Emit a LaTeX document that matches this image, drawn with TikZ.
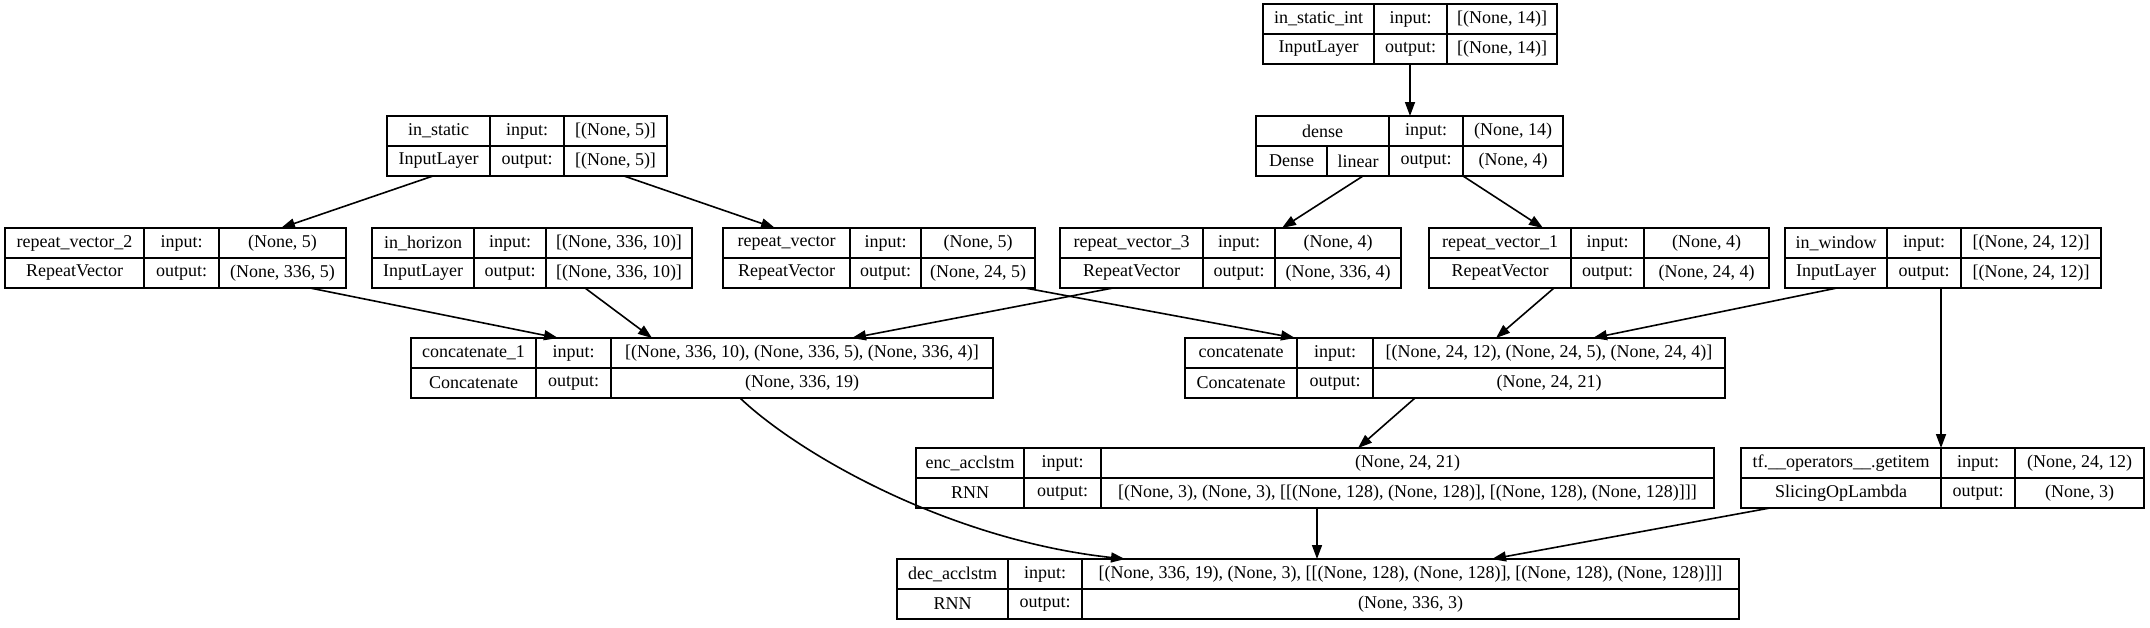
\documentclass[tikz,border=0pt]{standalone}
\usepackage{fontspec}
\setmainfont{Liberation Serif}
\usepackage{tikz}
\usetikzlibrary{arrows.meta}

\tikzset{
  kframe/.style={draw, line width=0.8pt, inner sep=0pt, outer sep=0pt, minimum height=30pt},
  kline/.style={line width=0.8pt},
  ktext/.style={inner sep=0pt, font=\rmfamily\fontsize{9}{10}\selectfont},
  kedge/.style={line width=0.8pt, -{Triangle[length=7pt,width=5pt]}},
}

% one layer: id, left, sep1, sep2, right, name, type, input, output
\newcommand{\kbox}[9]{%
  \node[kframe, anchor=north west, minimum width={(#5-#2)*0.5pt}] (#1) at (#2,\rowy) {};
  \draw[kline] (#3,\rowy) -- (#3,\rowy+60) (#4,\rowy) -- (#4,\rowy+60) (#2,\rowy+30) -- (#5,\rowy+30);
  \node[ktext] (#1n) at ({(#2+#3)/2},\rowy+15) {#6};
  \node[ktext] (#1t) at ({(#2+#3)/2},\rowy+45) {#7};
  \node[ktext] (#1i) at ({(#3+#4)/2},\rowy+15) {input:};
  \node[ktext] (#1o) at ({(#3+#4)/2},\rowy+45) {output:};
  \node[ktext] (#1a) at ({(#4+#5)/2},\rowy+15) {#8};
  \node[ktext] (#1b) at ({(#4+#5)/2},\rowy+45) {#9};
}

\begin{document}
\begin{tikzpicture}[x=0.5pt, y=-0.5pt]
\fill[white] (0,0) rectangle (2150,627);
\useasboundingbox (0,0) rectangle (2150,627);
% inputs
\def\rowy{4}
\kbox{instaticint}{1263}{1374}{1447}{1557}{in\_static\_int}{InputLayer}{[(None, 14)]}{[(None, 14)]}
\def\rowy{116}
\kbox{instatic}{387}{490}{564}{667}{in\_static}{InputLayer}{[(None, 5)]}{[(None, 5)]}
% dense
\node[kframe, anchor=north west, minimum width={(1563-1256)*0.5pt}] (dense) at (1256,116) {};
\draw[kline] (1389,116) -- (1389,176) (1463,116) -- (1463,176) (1256,146) -- (1563,146) (1327,146) -- (1327,176);
\node[ktext] (densen) at ({(1256+1389)/2},131) {dense};
\node[ktext] (denset) at ({(1256+1327)/2},161) {Dense};
\node[ktext] (densel) at ({(1327+1389)/2},161) {linear};
\node[ktext] (densei) at ({(1389+1463)/2},131) {input:};
\node[ktext] (denseo) at ({(1389+1463)/2},161) {output:};
\node[ktext] (densea) at ({(1463+1563)/2},131) {(None, 14)};
\node[ktext] (denseb) at ({(1463+1563)/2},161) {(None, 4)};
% repeat vectors
\def\rowy{228}
\kbox{rvtwo}{5}{144}{219}{346}{repeat\_vector\_2}{RepeatVector}{(None, 5)}{(None, 336, 5)}
\kbox{inhorizon}{372}{474}{546}{692}{in\_horizon}{InputLayer}{[(None, 336, 10)]}{[(None, 336, 10)]}
\kbox{rvzero}{723}{850}{921}{1035}{repeat\_vector}{RepeatVector}{(None, 5)}{(None, 24, 5)}
\kbox{rvthree}{1060}{1203}{1275}{1401}{repeat\_vector\_3}{RepeatVector}{(None, 4)}{(None, 336, 4)}
\kbox{rvone}{1429}{1571}{1644}{1769}{repeat\_vector\_1}{RepeatVector}{(None, 4)}{(None, 24, 4)}
\kbox{inwindow}{1785}{1887}{1961}{2101}{in\_window}{InputLayer}{[(None, 24, 12)]}{[(None, 24, 12)]}
% concatenate
\def\rowy{338}
\kbox{catone}{411}{536}{611}{993}{concatenate\_1}{Concatenate}{[(None, 336, 10), (None, 336, 5), (None, 336, 4)]}{(None, 336, 19)}
\kbox{cat}{1185}{1297}{1373}{1725}{concatenate}{Concatenate}{[(None, 24, 12), (None, 24, 5), (None, 24, 4)]}{(None, 24, 21)}
% encoder, slicing
\def\rowy{448}
\kbox{enc}{916}{1024}{1101}{1714}{enc\_acclstm}{RNN}{(None, 24, 21)}{[(None, 3), (None, 3), [[(None, 128), (None, 128)], [(None, 128), (None, 128)]]]}
\kbox{getitem}{1741}{1941}{2015}{2144}{tf.\_\_operators\_\_.getitem}{SlicingOpLambda}{(None, 24, 12)}{(None, 3)}
% decoder
\def\rowy{559}
\kbox{dec}{897}{1008}{1082}{1739}{dec\_acclstm}{RNN}{[(None, 336, 19), (None, 3), [[(None, 128), (None, 128)], [(None, 128), (None, 128)]]]}{(None, 336, 3)}
% edges
\draw[kedge] (instaticint.south -| 1410,0) -- (dense.north -| 1410,0);
\draw[kedge] (instatic.south -| 433,0) -- (rvtwo.north -| 281,0);
\draw[kedge] (instatic.south -| 624,0) -- (rvzero.north -| 775,0);
\draw[kedge] (dense.south -| 1363,0) -- (rvthree.north -| 1282,0);
\draw[kedge] (dense.south -| 1463,0) -- (rvone.north -| 1543,0);
\draw[kedge] (rvtwo.south -| 310,0) -- (catone.north -| 558,0);
\draw[kedge] (inhorizon.south -| 585,0) -- (catone.north -| 652,0);
\draw[kedge] (rvthree.south -| 1113,0) -- (catone.north -| 852,0);
\draw[kedge] (rvzero.south -| 1025,0) -- (cat.north -| 1295,0);
\draw[kedge] (rvone.south -| 1554,0) -- (cat.north -| 1496,0);
\draw[kedge] (inwindow.south -| 1837,0) -- (cat.north -| 1593,0);
\draw[kedge] (inwindow.south -| 1941,0) -- (getitem.north -| 1941,0);
\draw[kedge] (catone.south -| 740,0) .. controls (800,455) and (950,540) .. (dec.north -| 1125,0);
\draw[kedge] (cat.south -| 1415,0) -- (enc.north -| 1358,0);
\draw[kedge] (enc.south -| 1317,0) -- (dec.north -| 1317,0);
\draw[kedge] (getitem.south -| 1770,0) -- (dec.north -| 1492,0);
\end{tikzpicture}
\end{document}
